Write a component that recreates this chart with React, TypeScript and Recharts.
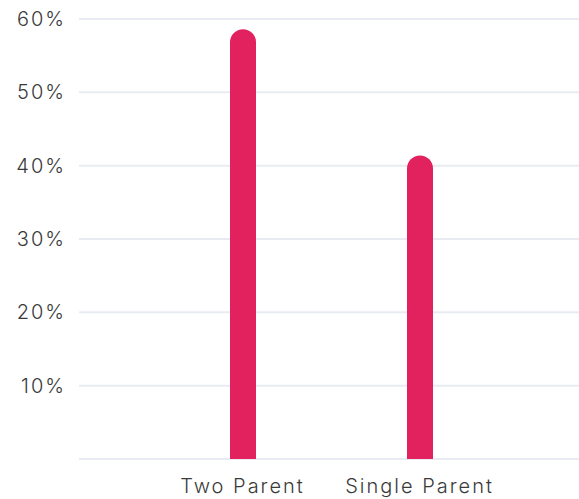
import React from 'react';
import { BarChart, Bar, XAxis, YAxis, CartesianGrid } from 'recharts';

const categories = ['Two Parent', 'Single Parent'];
const shares = [58.6, 41.4];
const yTicks = [0, 10, 20, 30, 40, 50, 60];

const data = categories.map((name, i) => ({ name, value: shares[i] }));

export default function App() {
  return (
    <div style={{ position: 'absolute', left: 0, top: 0, width: 579, height: 499, background: '#fff' }}>
      <BarChart width={579} height={499} data={data} margin={{ top: 19, right: 0, bottom: 10, left: 0 }}>
        <CartesianGrid vertical={false} stroke="#E8ECF2" strokeWidth={2} />
        <XAxis
          dataKey="name"
          height={30}
          axisLine={false}
          tickLine={false}
          tickSize={0}
          tickMargin={20}
          padding={{ left: 75, right: 71 }}
          tick={{ fill: '#3a3a3a', fontSize: 20, fontFamily: 'Inter', fontWeight: 300, letterSpacing: 2 }}
        />
        <YAxis
          domain={[0, 60]}
          ticks={yTicks}
          width={79}
          axisLine={false}
          tickLine={false}
          tickSize={0}
          tickMargin={13}
          tickFormatter={(v: number) => (v === 0 ? '' : `${v}%`)}
          tick={{ fill: '#3a3a3a', fontSize: 20, fontFamily: 'Inter', fontWeight: 300, letterSpacing: 2 }}
        />
        <Bar dataKey="value" fill="#E2215F" barSize={26} radius={[13, 13, 0, 0]} isAnimationActive={false} />
      </BarChart>
    </div>
  );
}
